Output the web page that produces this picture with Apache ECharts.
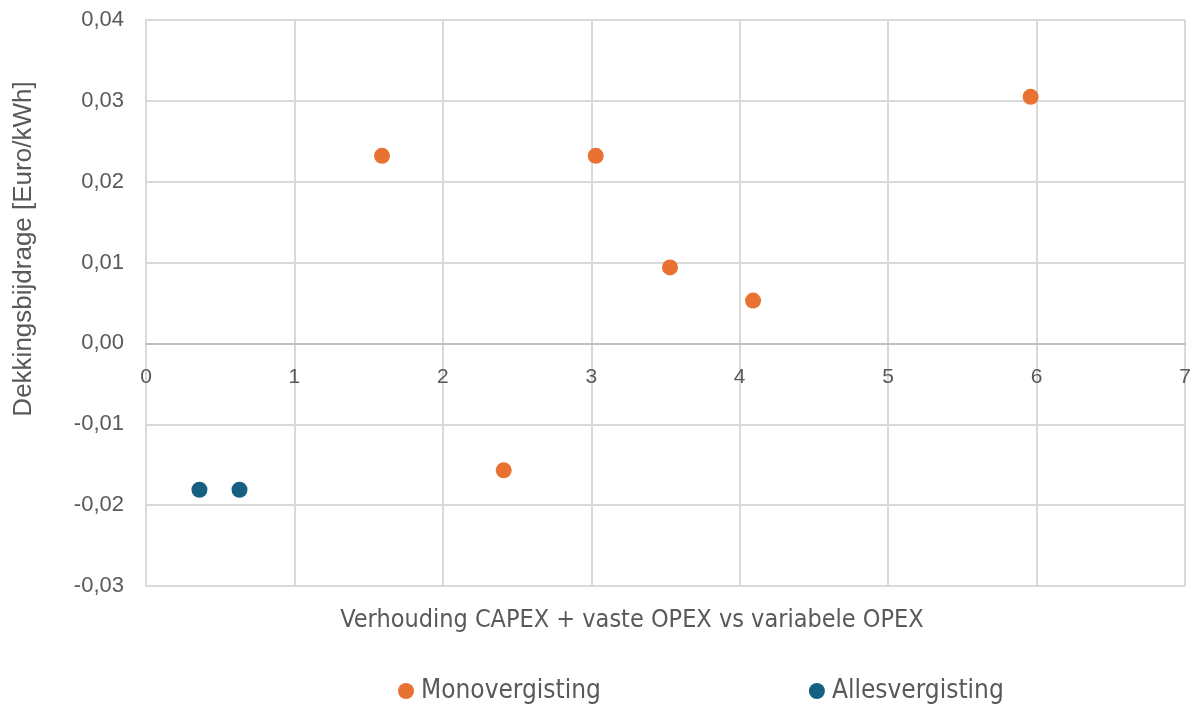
<!DOCTYPE html>
<html>
<head>
<meta charset="utf-8">
<script src="https://cdn.jsdelivr.net/npm/echarts@6/dist/echarts.min.js"></script>
<style>
  html, body { margin: 0; padding: 0; background: #ffffff; }
  #chart { width: 1195px; height: 704px; }
</style>
</head>
<body>
<div id="chart"></div>
<script>
// Verhouding (x) en dekkingsbijdrage in Euro/kWh (y) per installatie
const monoX = [1.59, 3.03, 3.53, 4.09, 5.96, 2.41];
const monoY = [0.0232, 0.0232, 0.0094, 0.0053, 0.0305, -0.0157];
const allesX = [0.36, 0.63];
const allesY = [-0.0181, -0.0181];

const seriesNames = ['Monovergisting', 'Allesvergisting'];
const xAxisTitle = 'Verhouding CAPEX + vaste OPEX vs variabele OPEX';
const yAxisTitle = 'Dekkingsbijdrage [Euro/kWh]';

const xMin = 0, xMax = 7, xStep = 1;
const yMin = -0.03, yMax = 0.04, yStep = 0.01;

const orange = '#E97132';
const blue = '#156082';
const textColor = '#595959';
const gridColor = '#d9d9d9';
const narrowFont = '"Liberation Sans Narrow", "DejaVu Sans Condensed", sans-serif';

const pair = (xs, ys) => xs.map((x, i) => [x, ys[i]]);

const gridTop = 20, gridBottom = 118, pageH = 704;
const plotH = pageH - gridTop - gridBottom;
// lift the x axis (line + labels) from the bottom edge up to y = 0
const zeroOffset = -plotH * (0 - yMin) / (yMax - yMin);

const chart = echarts.init(document.getElementById('chart'), null, { renderer: 'canvas' });

chart.setOption({
  animation: false,
  backgroundColor: '#ffffff',
  grid: { left: 146, top: gridTop, right: 10, bottom: gridBottom, containLabel: false },
  xAxis: {
    type: 'value',
    min: xMin, max: xMax, interval: xStep,
    offset: zeroOffset,
    axisLine: { show: true, onZero: false, lineStyle: { color: '#bfbfbf', width: 2 } },
    axisTick: { show: false },
    axisLabel: { color: textColor, fontSize: 21, fontFamily: 'Liberation Sans', margin: 23 },
    splitLine: { show: true, lineStyle: { color: gridColor, width: 2 } }
  },
  yAxis: {
    type: 'value',
    min: yMin, max: yMax, interval: yStep,
    axisLine: { show: true, lineStyle: { color: gridColor, width: 2 } },
    axisTick: { show: false },
    axisLabel: {
      color: textColor, fontSize: 22, fontFamily: 'Liberation Sans', margin: 22,
      formatter: v => v.toFixed(2).replace('.', ',').replace('-0,00', '0,00')
    },
    splitLine: { show: true, lineStyle: { color: gridColor, width: 2 } }
  },
  legend: {
    data: seriesNames,
    top: 673,
    left: 393,
    itemGap: 208,
    icon: 'circle',
    itemWidth: 16, itemHeight: 16,
    textStyle: { color: textColor, fontSize: 26, fontFamily: narrowFont, padding: [0, 0, 0, 2] }
  },
  graphic: [
    {
      type: 'text',
      x: 632, y: 620,
      style: {
        text: xAxisTitle, fill: textColor, font: '25px ' + narrowFont,
        textAlign: 'center', textVerticalAlign: 'middle'
      }
    },
    {
      type: 'text',
      x: 24, y: 249,
      rotation: Math.PI / 2,
      style: {
        text: yAxisTitle, fill: textColor,
        font: '26px "Liberation Sans", sans-serif',
        textAlign: 'center', textVerticalAlign: 'middle'
      }
    }
  ],
  series: [
    {
      name: seriesNames[0], type: 'scatter', symbolSize: 16,
      itemStyle: { color: orange, opacity: 1 },
      data: pair(monoX, monoY)
    },
    {
      name: seriesNames[1], type: 'scatter', symbolSize: 16,
      itemStyle: { color: blue, opacity: 1 },
      data: pair(allesX, allesY)
    }
  ]
});
</script>
</body>
</html>
